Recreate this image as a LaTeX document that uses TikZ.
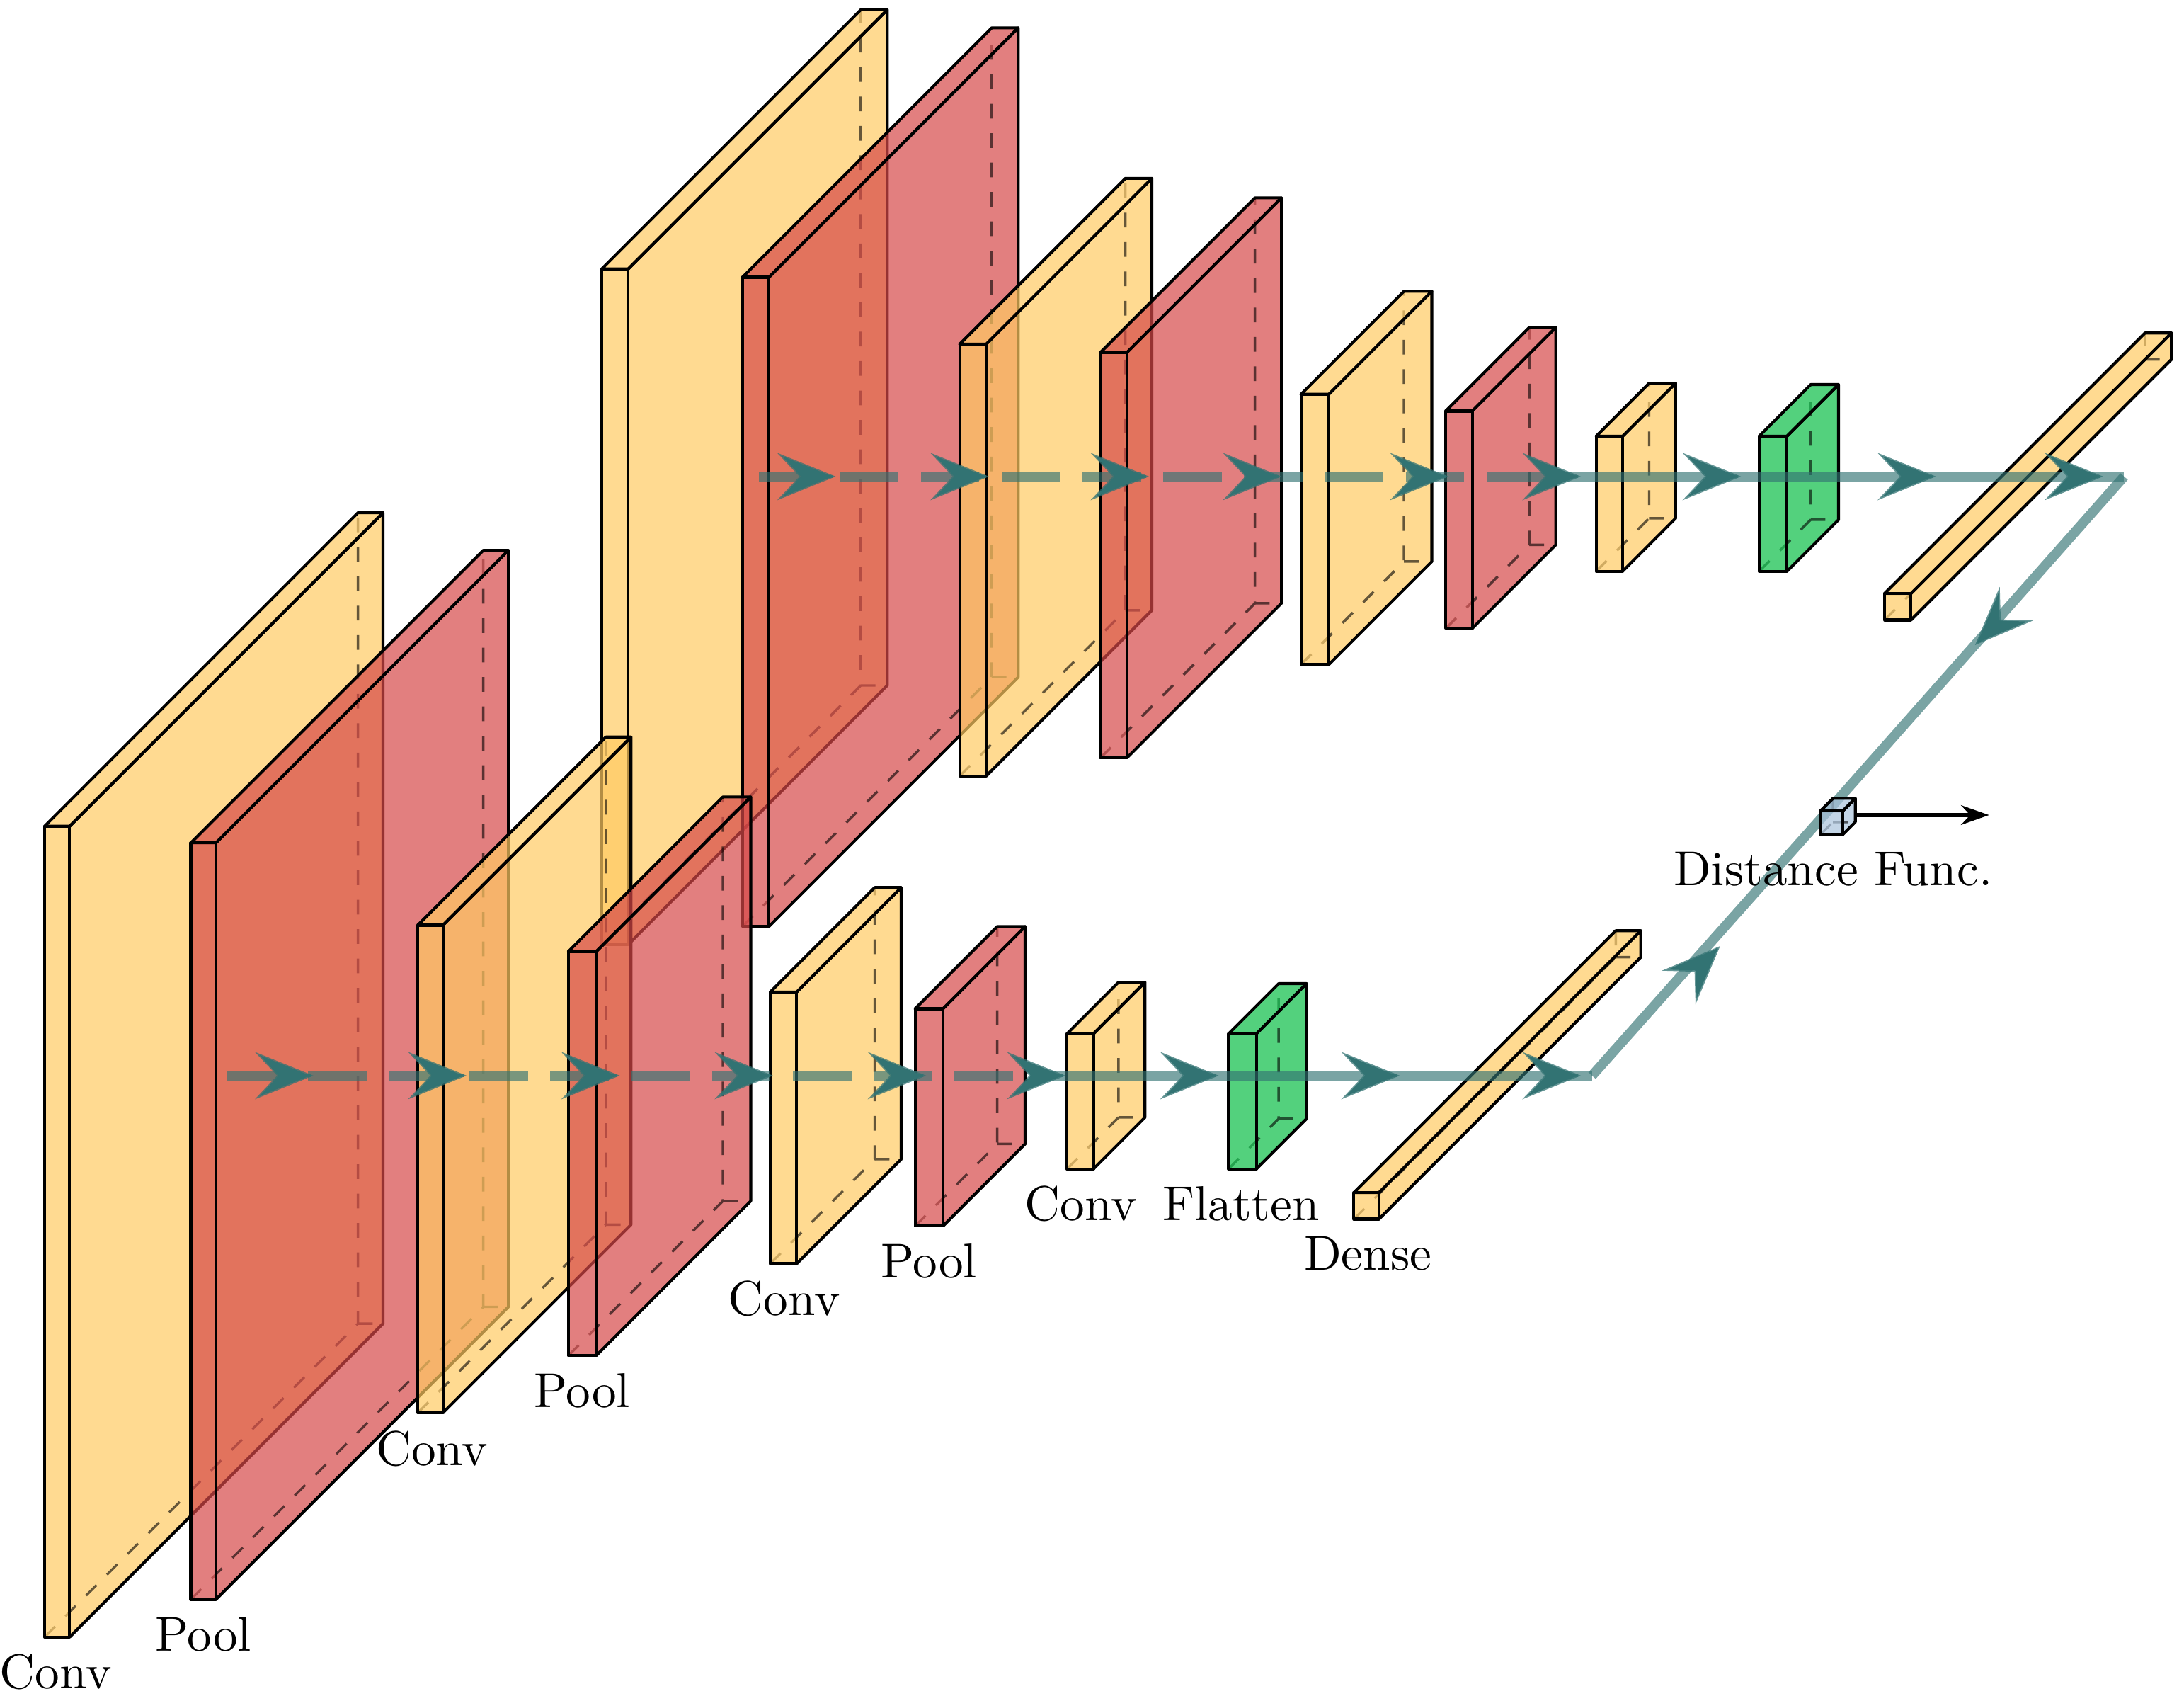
\documentclass[tikz,border=0pt]{standalone}
\usetikzlibrary{arrows.meta}
\definecolor{convc}{RGB}{255,202,98}
\definecolor{poolc}{RGB}{214,72,72}
\definecolor{flatc}{RGB}{10,190,70}
\definecolor{distc}{RGB}{170,195,220}
\definecolor{linec}{RGB}{50,115,115}
\tikzset{
  face/.style={draw=black,line width=0.6pt,fill opacity=0.7,line join=round},
  hid/.style={dashed,line width=0.5pt,draw opacity=0.6},
  flow/.style={draw=linec,draw opacity=0.65,line width=2pt},
  tipst/.style={draw=linec,draw opacity=0.75,line width=0.5pt,-{Stealth[length=0.42cm,width=0.34cm,inset=0.16cm,fill=linec]}},
  lbl/.style={font=\fontsize{10}{12}\selectfont,inner sep=0pt}
}
% x, w, ytop, ybot, depth, colour
\newcommand{\cbox}[6]{%
  \pgfmathsetmacro{\xa}{#1}\pgfmathsetmacro{\xb}{#1+#2}%
  \pgfmathsetmacro{\xc}{#1+#5}\pgfmathsetmacro{\xd}{#1+#2+#5}%
  \pgfmathsetmacro{\yt}{#3}\pgfmathsetmacro{\yb}{#4}%
  \pgfmathsetmacro{\ytt}{#3-#5}\pgfmathsetmacro{\ybb}{#4-#5}%
  \fill[#6,fill opacity=0.7] (\xb,\yt)--(\xd,\ytt)--(\xd,\ybb)--(\xb,\yb)--cycle;
  \draw[hid] (\xa,\yb)--(\xc,\ybb)--(\xc,\ytt) (\xc,\ybb)--(\xd,\ybb);
  \draw[face] (\xb,\yt)--(\xd,\ytt)--(\xd,\ybb)--(\xb,\yb);
  \draw[face,fill=#6] (\xa,\yt)--(\xc,\ytt)--(\xd,\ytt)--(\xb,\yt)--cycle;
  \draw[face,fill=#6] (\xa,\yt) rectangle (\xb,\yb);
}
\begin{document}
\begin{tikzpicture}[x=0.01cm,y=-0.01cm]
\useasboundingbox (0,0) rectangle (1568,1217);
% top branch
\cbox{432}{19}{193}{678}{186}{convc}
\cbox{533}{19}{199}{665}{179}{poolc}
\cbox{689}{19}{247}{557}{119}{convc}
\cbox{790}{19}{253}{544}{111}{poolc}
\cbox{934}{20}{283}{477}{74}{convc}
\cbox{1038}{19}{295}{451}{60}{poolc}
\cbox{1146}{19}{313}{410}{38}{convc}
\cbox{1263}{20}{313}{410}{37}{flatc}
\cbox{1353}{19}{426}{445}{187}{convc}
\coordinate (ta) at (545,342);
\coordinate (tb) at (1140,342);
\coordinate (tc) at (1525,342);
\draw[flow,dash pattern=on 0.42cm off 0.16cm] (ta)--(tb);
\draw[flow] (tb)--(tc);
\foreach \p in {600,710,825,920,1040,1135,1250,1390,1510}
  \draw[tipst] (\p-2,342)--(\p,342);
% bottom branch
\cbox{32}{18}{593}{1175}{225}{convc}
\cbox{137}{18}{605}{1148}{210}{poolc}
\cbox{300}{18}{664}{1014}{135}{convc}
\cbox{408}{20}{683}{973}{111}{poolc}
\cbox{553}{19}{712}{907}{75}{convc}
\cbox{657}{20}{724}{880}{59}{poolc}
\cbox{766}{19}{742}{839}{37}{convc}
\cbox{882}{20}{742}{839}{36}{flatc}
\cbox{972}{18}{856}{875}{188}{convc}
\coordinate (ba) at (163,772);
\coordinate (bb) at (760,772);
\coordinate (bc) at (1143,772);
\draw[flow,dash pattern=on 0.42cm off 0.16cm] (ba)--(bb);
\draw[flow] (bb)--(bc);
\foreach \p in {225,335,445,555,665,765,875,1005,1135}
  \draw[tipst] (\p-2,772)--(\p,772);
% converge
\coordinate (dm) at (1315,579);
\draw[flow] (bc)--(dm)--(tc);
\draw[tipst] (1233,681)--(1235,679);
\draw[tipst] (1420,461)--(1418,463);
% distance box
\cbox{1307}{16}{582}{599}{9}{distc}
\node (dend) at (1428,585) {};
\draw[-{Stealth[length=0.2cm,width=0.14cm]},line width=0.8pt] (1332,585)--(dend.center);
% labels
\node[lbl] (l1) at (40,1200) {Conv};
\node[lbl] (l2) at (146,1173) {Pool};
\node[lbl] (l3) at (310,1040) {Conv};
\node[lbl] (l4) at (418,998) {Pool};
\node[lbl] (l5) at (563,932) {Conv};
\node[lbl] (l6) at (667,905) {Pool};
\node[lbl] (l7) at (776,864) {Conv};
\node[lbl] (l8) at (891,864) {Flatten};
\node[lbl] (l9) at (982,900) {Dense};
\node[lbl] (l10) at (1316,624) {Distance Func.};
\end{tikzpicture}
\end{document}
